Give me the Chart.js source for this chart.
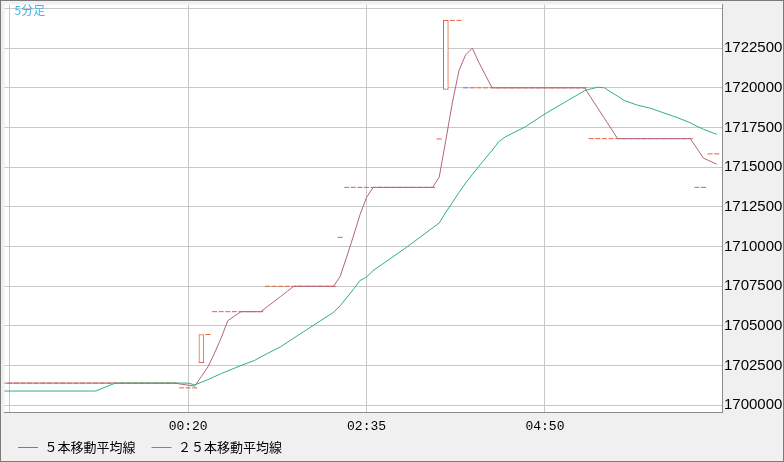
<!DOCTYPE html>
<html lang="ja">
<head>
  <meta charset="UTF-8" />
  <title>5分足</title>
  <script src="https://cdn.jsdelivr.net/npm/chart.js"></script>
  <style>
    body { margin: 0; background: #fff; }
    #wrap {
      width: 784px; height: 462px; box-sizing: border-box; overflow: hidden;
      border: 1px solid #7a7a76; background: #f0f0f0;
    }
    canvas { display: block; }
  </style>
</head>
<body>
  <div id="wrap">
    <!-- 右端のラベルは枠で切れる -->
    <canvas id="grafico" width="798" height="460"></canvas>
  </div>

  <script>
    const chartTitle = '5分足';

    // 5分足: 22:05 から 07:00 まで、各足の終値
    const barStart = '22:05';
    const barStep = 5;
    const closes = [
      // 22:05 - 00:10
      17014000, 17014000, 17014000, 17014000, 17014000, 17014000, 17014000, 17014000, 17014000, 17014000, 17014000, 17014000, 17014000,
      17014000, 17014000, 17014000, 17014000, 17014000, 17014000, 17014000, 17014000, 17014000, 17014000, 17014000, 17014000, 17014000,
      // 00:15 - 00:35
      17011000, 17011000, 17011000, 17044600, 17044600,
      // 00:40 - 01:15
      17059000, 17059000, 17059000, 17059000, 17059000, 17059000, 17059000, 17059000,
      // 01:20 - 02:10
      17075000, 17075000, 17075000, 17075000, 17075000, 17075000, 17075000, 17075000, 17075000, 17075000, 17075000,
      // 02:15
      17105800,
      // 02:20 - 03:25
      17137300, 17137300, 17137300, 17137300, 17137300, 17137300, 17137300,
      17137300, 17137300, 17137300, 17137300, 17137300, 17137300, 17137300,
      // 03:30 - 03:45
      17167800, 17242500, 17242500, 17242500,
      // 03:50 - 05:20
      17200000, 17200000, 17200000, 17200000, 17200000, 17200000, 17200000, 17200000, 17200000, 17200000,
      17200000, 17200000, 17200000, 17200000, 17200000, 17200000, 17200000, 17200000, 17200000,
      // 05:25 - 06:40
      17168000, 17168000, 17168000, 17168000, 17168000, 17168000, 17168000, 17168000,
      17168000, 17168000, 17168000, 17168000, 17168000, 17168000, 17168000, 17168000,
      // 06:45 - 07:00
      17137300, 17137300, 17158400, 17158400
    ];
    // 始値が終値と違う足（それ以外は 始値 = 終値）
    const bodyTimes = ['00:30', '03:35', '03:50'];
    const bodyOpens = [17026800, 17199000, 17200500];

    const ma5Times = ['22:00', '00:10', '00:15', '00:20', '00:25', '00:30', '00:35', '00:40', '00:45', '00:50', '00:55', '01:00',
      '01:15', '01:20', '01:25', '01:30', '01:35', '01:40', '02:10', '02:15', '02:20', '02:25', '02:30', '02:35', '02:40',
      '03:25', '03:30', '03:35', '03:40', '03:45', '03:50', '03:55', '04:00', '04:05', '04:10',
      '05:20', '05:25', '05:30', '05:35', '05:40', '05:45', '06:40', '06:45', '06:50', '06:55', '07:00'];
    const ma5Values = [17014000, 17014000, 17013300, 17012700, 17012100, 17018200, 17024300, 17033000, 17042500, 17053300, 17056200, 17059000,
      17059000, 17062200, 17065400, 17068600, 17071800, 17075000, 17075000, 17081200, 17093600, 17106500, 17120000, 17131000, 17137300,
      17137300, 17143800, 17167000, 17191000, 17211000, 17220800, 17225000, 17216000, 17208000, 17200000,
      17200000, 17193600, 17187200, 17180800, 17174400, 17168000, 17168000, 17161900, 17155700, 17153800, 17151900];

    const ma25Times = ['22:00', '23:10', '23:20', '23:25', '00:20', '00:25', '00:35', '00:45', '01:00', '01:10', '01:20', '01:30', '01:40',
      '02:10', '02:15', '02:25', '02:30', '02:35', '02:40', '03:05', '03:30', '03:35', '03:45', '03:50', '04:00', '04:10',
      '04:15', '04:20', '04:35', '04:50', '05:05', '05:20', '05:25', '05:30', '05:35', '05:40', '05:45', '05:50',
      '06:00', '06:10', '06:20', '06:30', '06:40', '06:45', '06:50', '07:00'];
    const ma25Values = [17009000, 17009000, 17012400, 17014000, 17014000, 17012900, 17016200, 17020000, 17025100, 17028200, 17032700, 17036900, 17042400,
      17058600, 17062700, 17073000, 17078600, 17080800, 17084900, 17099400, 17114900, 17121600, 17134100, 17140100, 17150600, 17160600,
      17166000, 17169100, 17175400, 17183600, 17190900, 17198200, 17199400, 17200400, 17200000, 17197300, 17194800, 17192000,
      17189100, 17187100, 17184200, 17181300, 17178000, 17175800, 17173900, 17170700];

    const xTickTimes = ['22:05', '00:20', '02:35', '04:50'];
    const xTickLabels = ['', '00:20', '02:35', '04:50'];
    const yTickValues = [17000000, 17025000, 17050000, 17075000, 17100000, 17125000, 17150000, 17175000, 17200000, 17225000, 17250000];
    const yTickLabels = ['17000000', '17025000', '17050000', '17075000', '17100000', '17125000', '17150000', '17175000', '17200000', '17225000', ''];

    const seriesNames = ['５本移動平均線', '２５本移動平均線'];

    const UP = '#e0643e';
    const DOWN = '#4a8fd0';
    const MA5C = '#b3637f';
    const MA25C = '#2fb27a';
    const GRID = '#c8c8c8';
    const AXIS = '#8a8a8a';

    // "HH:MM" -> 分 (前日の時刻はマイナス)
    function toMin(s) {
      const [h, m] = s.split(':').map(Number);
      return (h >= 12 ? h - 24 : h) * 60 + m;
    }

    const t0 = toMin(barStart);
    const flatPts = [];
    const bodyBars = [];
    closes.forEach((c, i) => {
      const t = t0 + i * barStep;
      const k = bodyTimes.findIndex(s => toMin(s) === t);
      const o = k < 0 ? c : bodyOpens[k];
      if (Math.abs(o - c) < 1000) {
        flatPts.push({ x: t, y: c, down: c < o });
      } else {
        bodyBars.push({ x: t, y: [o, c] });
      }
    });

    const ma5 = ma5Times.map((s, i) => ({ x: toMin(s), y: ma5Values[i] }));
    const ma25 = ma25Times.map((s, i) => ({ x: toMin(s), y: ma25Values[i] }));

    const plotBackground = {
      id: 'plotBackground',
      afterLayout(chart) {
        // 凡例を軸ラベルのすぐ下に置く
        const lg = chart.legend;
        const h = lg.height;
        lg.top = 463 - h;
        lg.bottom = 463;
      },
      beforeDraw(chart) {
        const { ctx, chartArea: a } = chart;
        ctx.save();
        ctx.fillStyle = '#ffffff';
        ctx.fillRect(a.left, a.top, a.right - a.left, a.bottom - a.top);
        ctx.restore();
      },
      afterDatasetsDraw(chart) {
        const ctx = chart.ctx;
        ctx.save();
        ctx.fillStyle = '#3fb4e8';
        ctx.font = '12px "Noto Sans CJK JP"';
        ctx.textBaseline = 'top';
        ctx.fillText(chartTitle, 13.5, 3);
        ctx.restore();
      }
    };

    const ctx = document.getElementById('grafico').getContext('2d');
    new Chart(ctx, {
      type: 'line',
      data: {
        datasets: [
          {
            label: seriesNames[0],
            data: ma5,
            borderColor: MA5C,
            backgroundColor: MA5C,
            borderWidth: 1,
            pointRadius: 0,
            tension: 0,
            order: 1
          },
          {
            label: seriesNames[1],
            data: ma25,
            borderColor: MA25C,
            backgroundColor: MA25C,
            borderWidth: 1,
            pointRadius: 0,
            tension: 0,
            order: 0
          },
          {
            type: 'bar',
            label: 'body',
            data: bodyBars,
            backgroundColor: '#ffffff',
            borderColor: UP,
            borderWidth: 1,
            borderSkipped: false,
            barThickness: 5,
            order: 2
          },
          {
            type: 'line',
            label: 'flat',
            data: flatPts,
            showLine: false,
            pointStyle: 'line',
            pointRadius: 2.5,
            pointHoverRadius: 2.5,
            pointBorderWidth: 1,
            pointBorderColor: c => (c.raw && c.raw.down ? DOWN : UP),
            order: 3
          }
        ]
      },
      options: {
        responsive: false,
        animation: false,
        events: [],
        layout: { padding: { left: 1, top: 1, right: 0, bottom: -16 } },
        plugins: {
          tooltip: { enabled: false },
          legend: {
            position: 'bottom',
            align: 'start',
            labels: {
              boxWidth: 20,
              boxHeight: 1,
              padding: 16,
              color: '#000000',
              font: { family: '"Noto Sans CJK JP"', size: 13 },
              filter: item => item.datasetIndex < 2,
              sort: (a, b) => a.datasetIndex - b.datasetIndex,
              generateLabels: chart =>
                Chart.defaults.plugins.legend.labels.generateLabels(chart)
                  .map(l => ({ ...l, lineWidth: 0, fillStyle: l.strokeStyle }))
            }
          }
        },
        scales: {
          x: {
            type: 'linear',
            min: -119,
            max: 424,
            offset: false,
            afterBuildTicks: s => { s.ticks = xTickTimes.map(t => ({ value: toMin(t) })); },
            afterFit: s => { s.height = 26; s.paddingLeft = 0; s.paddingRight = 0; },
            ticks: {
              autoSkip: false,
              maxRotation: 0,
              padding: 7,
              color: '#000000',
              font: { family: '"Liberation Mono"', size: 13 },
              callback: (v, i) => xTickLabels[i]
            },
            grid: { color: GRID, drawTicks: false, offset: false },
            border: { color: AXIS, width: 1 }
          },
          y: {
            type: 'linear',
            position: 'right',
            min: 16995800,
            max: 17252500,
            afterBuildTicks: s => { s.ticks = yTickValues.map(v => ({ value: v })); },
            afterFit: s => { s.width = s.chart.width - 721; s.paddingTop = 0; s.paddingBottom = 0; },
            ticks: {
              autoSkip: false,
              padding: 2,
              color: '#000000',
              font: { family: '"Liberation Sans"', size: 15 },
              callback: (v, i) => yTickLabels[i]
            },
            grid: { color: GRID, drawTicks: false },
            border: { color: AXIS, width: 1 }
          }
        }
      },
      plugins: [plotBackground]
    });
  </script>
</body>
</html>
